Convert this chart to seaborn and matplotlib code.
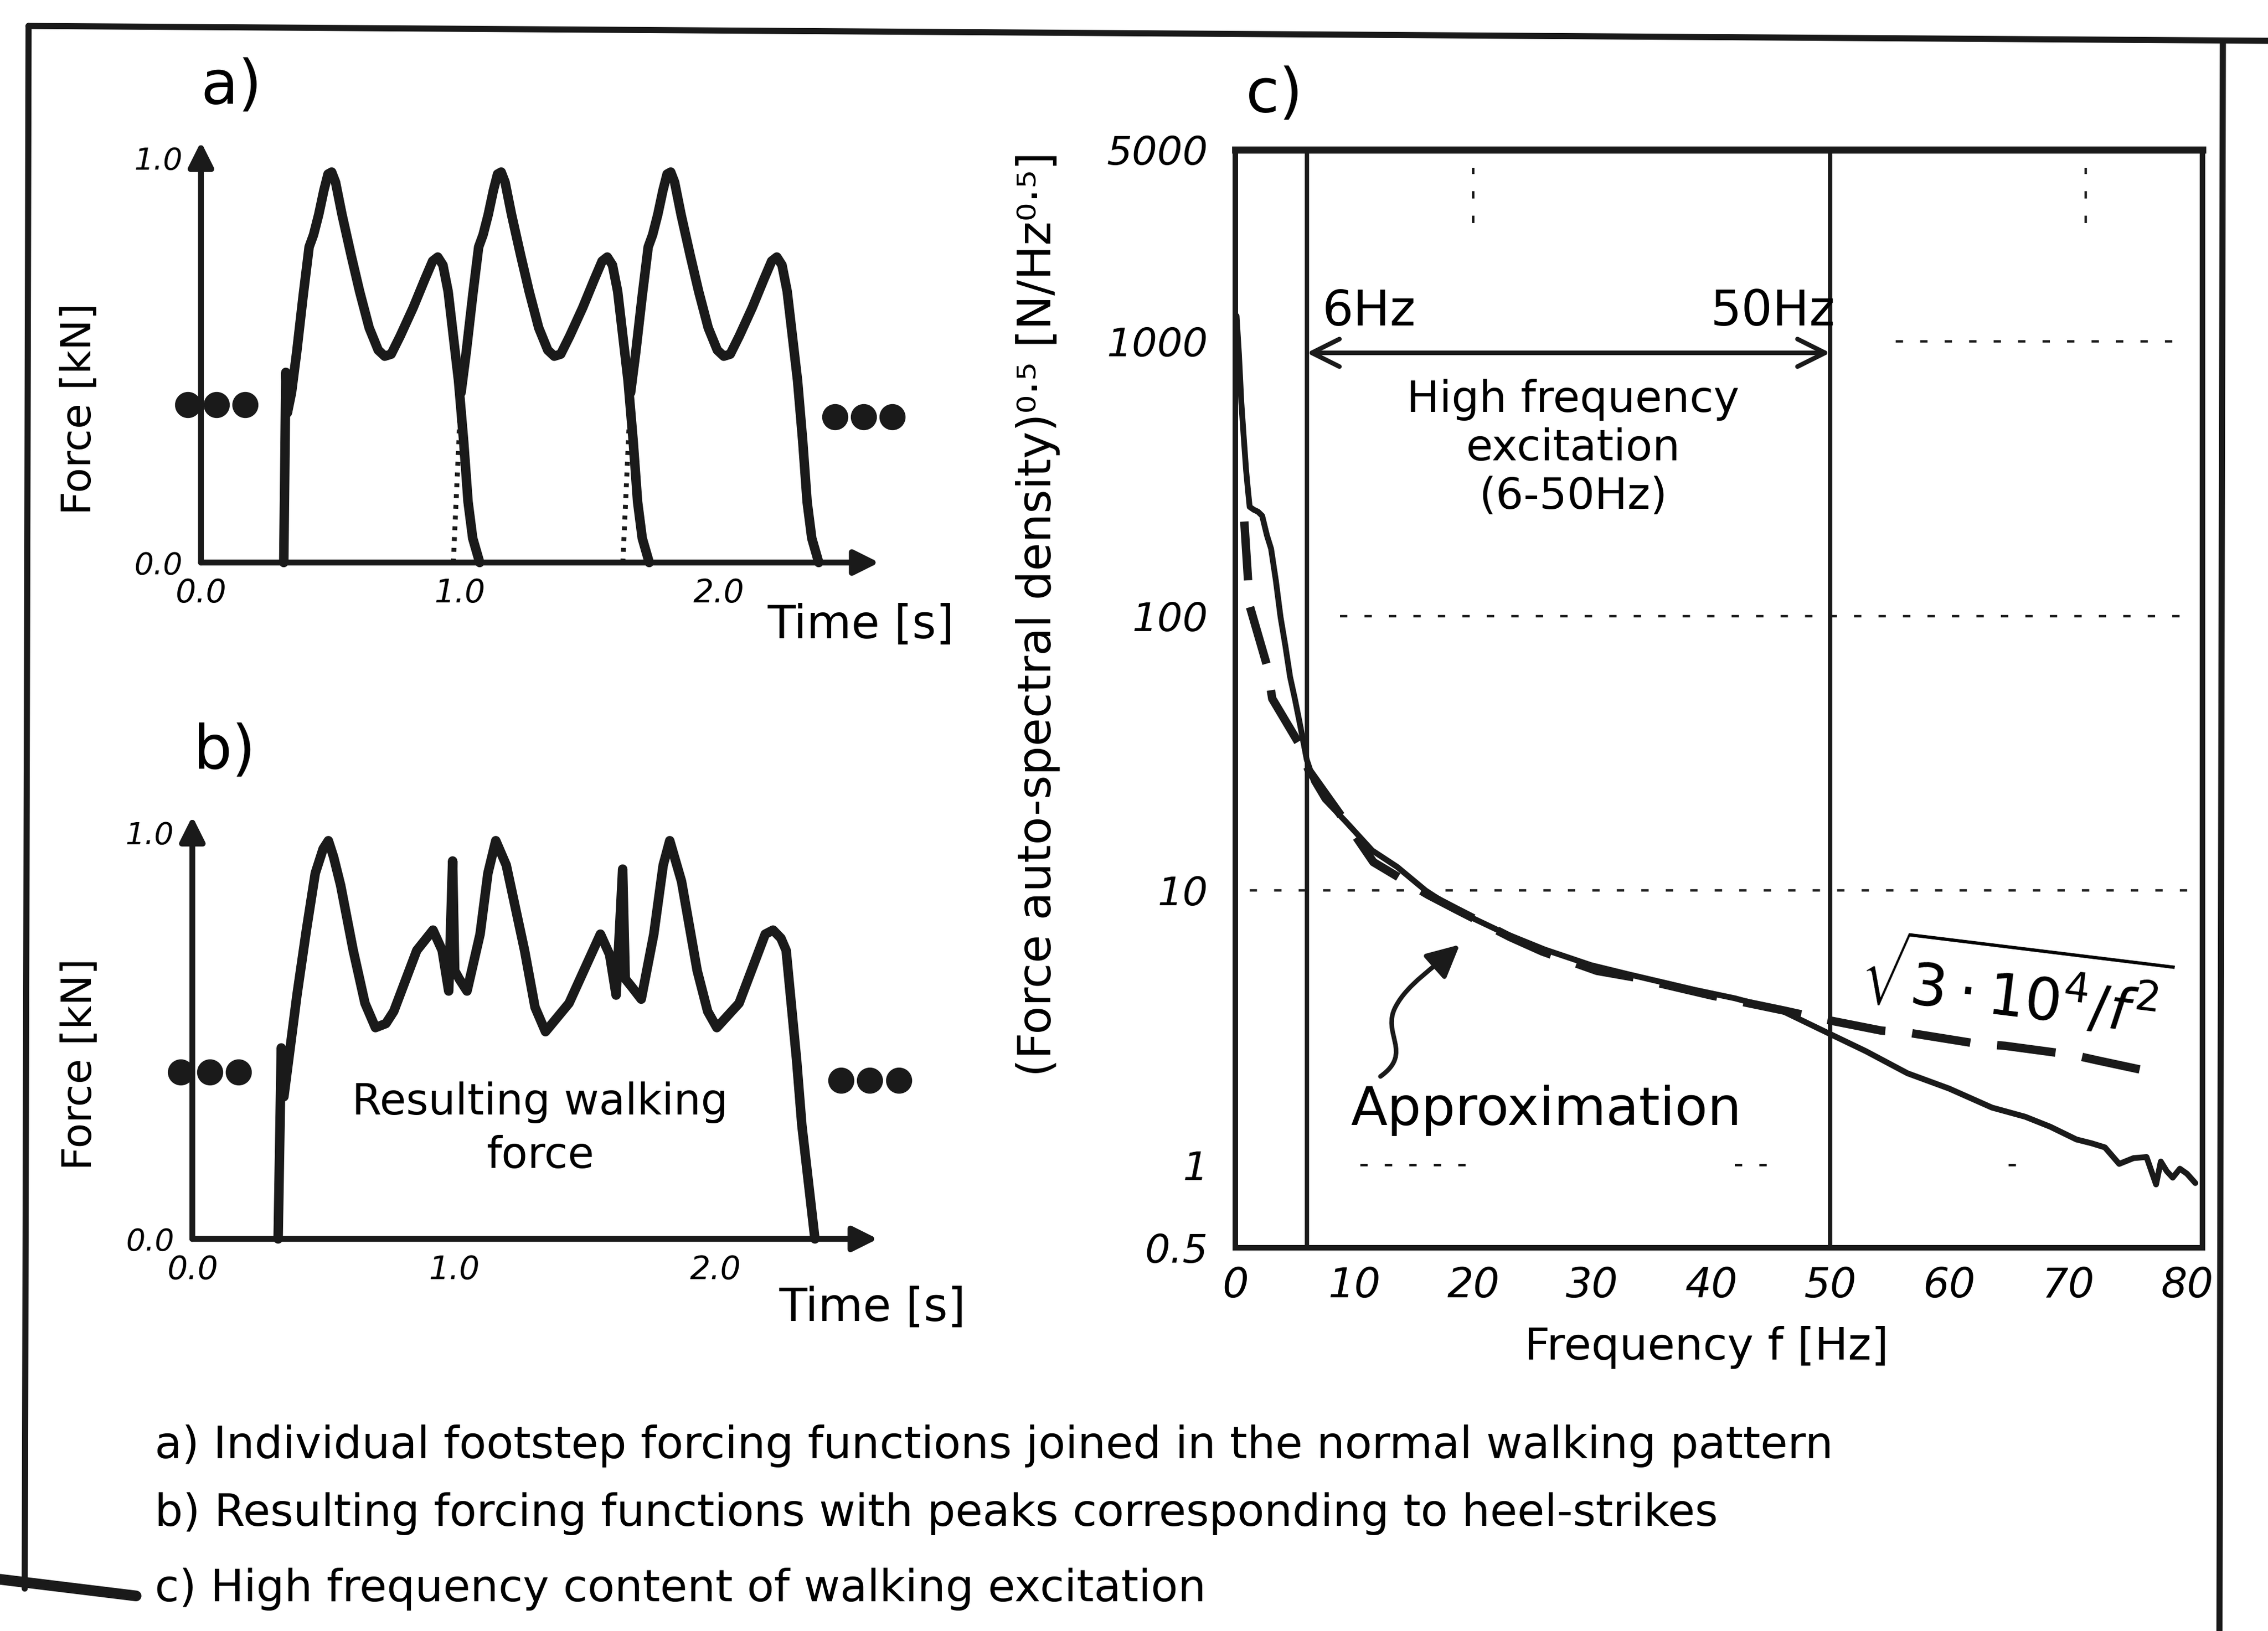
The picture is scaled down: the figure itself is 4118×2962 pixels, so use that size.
import numpy as np
import pandas as pd
import matplotlib
matplotlib.use("Agg")
import matplotlib.pyplot as plt
import seaborn as sns
from matplotlib.lines import Line2D
from matplotlib.patches import FancyArrowPatch
from matplotlib.path import Path
from matplotlib.ticker import NullLocator

# ------------------------------------------------------------------ data
# a) one footstep forcing function (time relative to heel contact [s], force [kN])
step_rel_t = [0.000, 0.030, 0.050, 0.075, 0.098, 0.115, 0.135, 0.155, 0.171, 0.185,
              0.200, 0.225, 0.260, 0.293, 0.330, 0.365, 0.390, 0.415, 0.450, 0.500,
              0.545, 0.575, 0.595, 0.615, 0.635, 0.655, 0.675, 0.695, 0.712, 0.730, 0.757]
step_force = [0.00, 0.42, 0.52, 0.66, 0.78, 0.81, 0.86, 0.92, 0.96, 0.965,
              0.94, 0.86, 0.76, 0.67, 0.58, 0.525, 0.51, 0.515, 0.56, 0.63,
              0.70, 0.745, 0.755, 0.735, 0.67, 0.56, 0.45, 0.30, 0.15, 0.06, 0.00]
step_starts = [0.32, 0.975, 1.63]          # heel contact of the three footsteps [s]
heel_rel_t = [0.000, 0.008, 0.014]          # heel-strike spike of first footstep
heel_force = [0.00, 0.47, 0.37]
dotted_until = 0.030                        # hidden start of overlapping footsteps

# b) resulting walking force
b_time = [0.328, 0.340, 0.350, 0.400, 0.436, 0.470, 0.500, 0.520, 0.540, 0.567,
          0.615, 0.660, 0.700, 0.740, 0.770, 0.858, 0.920, 0.955, 0.980, 0.995,
          1.003, 1.020, 1.050, 1.100, 1.130, 1.160, 1.200, 1.270, 1.310, 1.350,
          1.440, 1.560, 1.595, 1.620, 1.645, 1.655, 1.680, 1.716, 1.764, 1.800,
          1.825, 1.870, 1.930, 1.970, 2.005, 2.090, 2.190, 2.220, 2.250, 2.270,
          2.310, 2.330, 2.380]
b_force = [0.00, 0.47, 0.35, 0.60, 0.76, 0.90, 0.96, 0.98, 0.94, 0.87,
           0.71, 0.58, 0.52, 0.53, 0.56, 0.71, 0.76, 0.71, 0.61, 0.93,
           0.66, 0.64, 0.61, 0.75, 0.90, 0.98, 0.92, 0.71, 0.57, 0.51,
           0.58, 0.75, 0.70, 0.60, 0.91, 0.64, 0.62, 0.59, 0.75, 0.92,
           0.98, 0.88, 0.66, 0.56, 0.52, 0.58, 0.75, 0.76, 0.74, 0.71,
           0.44, 0.28, 0.00]

# continuation dots (•••) left and right of the walking patterns
a_dots_t = [-0.05, 0.06, 0.17, 2.45, 2.56, 2.67]
a_dots_f = [0.39, 0.39, 0.39, 0.36, 0.36, 0.36]
b_dots_t = [-0.044, 0.066, 0.177, 2.48, 2.59, 2.70]
b_dots_f = [0.41, 0.41, 0.41, 0.39, 0.39, 0.39]

time_ticks = [0.0, 1.0, 2.0]
time_ticklabels = ["0.0", "1.0", "2.0"]
force_ticks = [0.0, 1.0]
force_ticklabels = ["0.0", "1.0"]

# c) force auto-spectral density (sqrt) vs frequency
c_freq = [0.1, 0.3, 0.5, 0.7, 0.9, 1.05, 1.2, 1.55, 1.9, 2.25,
          2.65, 3.0, 3.4, 3.8, 4.2, 4.6, 5.0, 5.4, 6.0, 6.6,
          7.5, 9.3, 11.5, 13.6, 16.0, 18.5, 22.6, 26.0, 29.9, 33.0,
          38.6, 42.0, 46.0, 49.6, 53.0, 56.5, 60.0, 63.6, 66.4, 68.5,
          70.7, 72.0, 73.1, 74.3, 75.5, 76.6, 77.4, 77.8, 78.3, 78.8,
          79.4, 80.0, 80.7]
c_asd = [1240, 900, 600, 450, 340, 290, 250, 244, 240, 232,
         197, 176, 135, 99, 78, 60, 50, 41, 30, 25,
         21.5, 17.8, 14.0, 12.2, 10.0, 8.5, 7.0, 6.1, 5.35, 4.96,
         4.35, 4.05, 3.64, 3.06, 2.6, 2.16, 1.9, 1.62, 1.5, 1.38,
         1.24, 1.20, 1.16, 1.01, 1.06, 1.07, 0.85, 1.03, 0.95, 0.90,
         0.97, 0.93, 0.86]
approx_freq = [0.75, 1.0, 1.2, 2.66, 3.1, 5.3, 6.15, 10.06, 11.6, 16.2,
               18.5, 23.1, 25.8, 30.4, 33.5, 40.0, 46.2, 49.0, 54.3, 56.7,
               62.3, 64.7, 70.4, 72.6, 78.2]
approx_asd = [221, 150, 109, 66, 50, 34.6, 27.5, 15.9, 12.7, 9.65,
              8.56, 6.77, 6.0, 5.1, 4.83, 4.15, 3.65, 3.43, 3.09, 3.03,
              2.77, 2.72, 2.52, 2.40, 2.13]
c_xticks = [0, 10, 20, 30, 40, 50, 60, 70, 80]
c_xticklabels = ["0", "10", "20", "30", "40", "50", "60", "70", "80"]
c_yticks = [0.5, 1, 10, 100, 1000, 5000]
c_yticklabels = ["0.5", "1", "10", "100", "1000", "5000"]
band_edges = [6, 50]
band_arrow_level = 910
grid_levels = [1000, 100, 10]
grid_extent = [(55.5, 80.2), (8.8, 80.2), (1.2, 80.2)]
grid_one_segments = [(10.5, 19.7), (42.0, 45.0), (65.0, 67.0)]
grid_vertical = [20.0, 71.5]

captions = ["a) Individual footstep forcing functions joined in the normal walking pattern",
            "b) Resulting forcing functions with peaks corresponding to heel-strikes",
            "c) High frequency content of walking excitation"]

# ------------------------------------------------------------------ style
sns.set_theme(style="white")
plt.rcParams['font.family'] = ['DejaVu Sans']
plt.rcParams['mathtext.fontset'] = 'dejavusans'
plt.rcParams['axes.edgecolor'] = 'black'
plt.rcParams['text.color'] = 'black'
plt.rcParams['xtick.color'] = 'black'
plt.rcParams['ytick.color'] = 'black'

fig = plt.figure(figsize=(20.59, 14.81), dpi=200)
fig.patch.set_facecolor('white')

LW_CURVE = 6.2
LW_AXIS = 3.8


def arrow_axes(ax, xmax, ymax):
    kw = dict(arrowstyle='-|>', lw=LW_AXIS, color='k', mutation_scale=34,
              shrinkA=0, shrinkB=0)
    ax.annotate('', xy=(xmax, 0), xytext=(0, 0), arrowprops=kw,
                annotation_clip=False)
    ax.annotate('', xy=(0, ymax), xytext=(0, 0), arrowprops=kw,
                annotation_clip=False)


def style_force_axes(ax):
    ax.set_xlim(0, 2.62)
    ax.set_ylim(0, 1.04)
    for s in ax.spines.values():
        s.set_visible(False)
    ax.set_xticks(time_ticks)
    ax.set_xticklabels(time_ticklabels, fontsize=21, fontstyle='italic')
    ax.set_yticks(force_ticks)
    ax.set_yticklabels(force_ticklabels, fontsize=20, fontstyle='italic')
    ax.tick_params(axis='x', length=0, pad=10)
    ax.tick_params(axis='y', length=0, pad=12)
    ax.set_xlabel('')
    ax.set_ylabel('')
    ax.set_facecolor('none')
    arrow_axes(ax, 2.62, 1.04)


# ------------------------------------------------------------------ panel a
axa = fig.add_axes([0.0886, 0.6551, 0.2990, 0.2580])
rel = np.array(step_rel_t)
frc = np.array(step_force)
for i, t0 in enumerate(step_starts):
    solid = rel >= dotted_until
    if i == 0:
        t_line = np.concatenate([np.array(heel_rel_t), rel[solid]]) + t0
        f_line = np.concatenate([np.array(heel_force), frc[solid]])
    else:
        dotted = rel <= dotted_until
        sns.lineplot(x=rel[dotted] + t0, y=frc[dotted], ax=axa, color='k',
                     lw=3.2, linestyle=(0, (0.8, 1.4)), estimator=None, sort=False)
        t_line = rel[solid] + t0
        f_line = frc[solid]
    sns.lineplot(x=t_line, y=f_line, ax=axa, color='k', lw=LW_CURVE,
                 estimator=None, sort=False)
sns.scatterplot(x=a_dots_t, y=a_dots_f, ax=axa, color='k', s=250, edgecolor='k')
style_force_axes(axa)
for art in axa.lines + axa.collections:
    art.set_clip_on(False)
axa.text(-0.47, 0.38, 'Force [kN]', rotation=90, ha='center', va='center', fontsize=27)
axa.text(2.55, -0.155, 'Time [s]', ha='center', va='center', fontsize=30)
fig.text(0.102, 0.947, 'a)', fontsize=40, ha='center', va='center')

# ------------------------------------------------------------------ panel b
axb = fig.add_axes([0.0848, 0.2404, 0.3022, 0.2591])
sns.lineplot(x=b_time, y=b_force, ax=axb, color='k', lw=LW_CURVE,
             estimator=None, sort=False)
sns.scatterplot(x=b_dots_t, y=b_dots_f, ax=axb, color='k', s=250, edgecolor='k')
style_force_axes(axb)
for art in axb.lines + axb.collections:
    art.set_clip_on(False)
axb.text(-0.43, 0.43, 'Force [kN]', rotation=90, ha='center', va='center', fontsize=27)
axb.text(2.60, -0.17, 'Time [s]', ha='center', va='center', fontsize=30)
axb.text(1.33, 0.27, 'Resulting walking\nforce', ha='center', va='center',
         fontsize=28, linespacing=1.35)
fig.text(0.099, 0.539, 'b)', fontsize=40, ha='center', va='center')

# ------------------------------------------------------------------ panel c
axc = fig.add_axes([0.5447, 0.2350, 0.4264, 0.6732])
axc.set_yscale('log')
sns.lineplot(x=c_freq, y=c_asd, ax=axc, color='k', lw=3.8, estimator=None, sort=False)
sns.lineplot(x=approx_freq, y=approx_asd, ax=axc, color='k', lw=5.5,
             linestyle=(0, (7.0, 3.2)), estimator=None, sort=False)
axc.set_xlim(0, 81.3)
axc.set_ylim(0.5, 5000)
axc.yaxis.set_minor_locator(NullLocator())
axc.set_xticks(c_xticks)
axc.set_xticklabels(c_xticklabels, fontsize=27, fontstyle='italic')
axc.set_yticks(c_yticks)
axc.set_yticklabels(c_yticklabels, fontsize=26, fontstyle='italic')
axc.tick_params(axis='x', length=0, pad=12)
axc.tick_params(axis='y', length=0, pad=18)
axc.set_xlabel('')
axc.set_ylabel('')
for s in axc.spines.values():
    s.set_linewidth(3.6)
    s.set_color('k')
axc.spines['top'].set_linewidth(4.6)

# grid pieces
for lev, (x0, x1) in zip(grid_levels, grid_extent):
    axc.hlines(lev, x0, x1, colors='k', lw=1.6, linestyles=[(0, (3, 7))])
for (x0, x1) in grid_one_segments:
    axc.hlines(1, x0, x1, colors='k', lw=1.6, linestyles=[(0, (3, 7))])
for xv in grid_vertical:
    axc.vlines(xv, 2700, 4300, colors='k', lw=1.6, linestyles=[(0, (3, 7))])

for fe in band_edges:
    axc.axvline(fe, color='k', lw=2.8)
axc.annotate('', xy=(band_edges[0], band_arrow_level), xytext=(band_edges[1], band_arrow_level),
             arrowprops=dict(arrowstyle='<->', lw=3.0, color='k', mutation_scale=45,
                             shrinkA=0, shrinkB=0))
axc.text(7.3, 1280, '6Hz', ha='left', va='center', fontsize=32)
axc.text(50.4, 1280, '50Hz', ha='right', va='center', fontsize=32)
axc.text(28.4, 409, 'High frequency\nexcitation\n(6-50Hz)', ha='center', va='center',
         fontsize=28.5, linespacing=1.2)
axc.text(26.1, 1.58, 'Approximation', ha='center', va='center', fontsize=35)
axc.text(0.807, 0.236, r'$\sqrt{3\cdot10^4/f^2}$', transform=axc.transAxes,
         ha='center', va='center', fontsize=38, rotation=-7)

# curvy arrow pointing at the approximation curve
verts = [(0.150, 0.156), (0.185, 0.178), (0.150, 0.195), (0.166, 0.220),
         (0.178, 0.240), (0.205, 0.255), (0.232, 0.276)]
codes = [Path.MOVETO, Path.CURVE4, Path.CURVE4, Path.CURVE4,
         Path.CURVE4, Path.CURVE4, Path.CURVE4]
arr = FancyArrowPatch(path=Path(verts, codes), arrowstyle='-|>', mutation_scale=45,
                      lw=3.0, color='k', transform=axc.transAxes)
axc.add_patch(arr)

axc.text(0.487, -0.091, 'Frequency f [Hz]', transform=axc.transAxes,
         ha='center', va='center', fontsize=29)
axc.text(-0.204, 0.577, '(Force auto-spectral density)⁰·⁵ [N/Hz⁰·⁵]',
         transform=axc.transAxes, rotation=90, ha='center', va='center', fontsize=30)
fig.text(0.562, 0.942, 'c)', fontsize=40, ha='center', va='center')

# ------------------------------------------------------------------ captions
cap_y = [0.1134, 0.0719, 0.0255]
for txt, yy in zip(captions, cap_y):
    fig.text(0.0682, yy, txt, ha='left', va='center', fontsize=29)

# ------------------------------------------------------------------ frame
frame = [((0.0126, 0.9841), (1.0, 0.9750), 4.0),
         ((0.0126, 0.9841), (0.0109, 0.0260), 4.0),
         ((0.9801, 0.9733), (0.9786, 0.0), 4.0),
         ((0.0, 0.0317), (0.0600, 0.0215), 7.0)]
for (p0, p1, lw) in frame:
    fig.add_artist(Line2D([p0[0], p1[0]], [p0[1], p1[1]], transform=fig.transFigure,
                          color='k', lw=lw))

fig.savefig('out.png', dpi=200, facecolor='white')
